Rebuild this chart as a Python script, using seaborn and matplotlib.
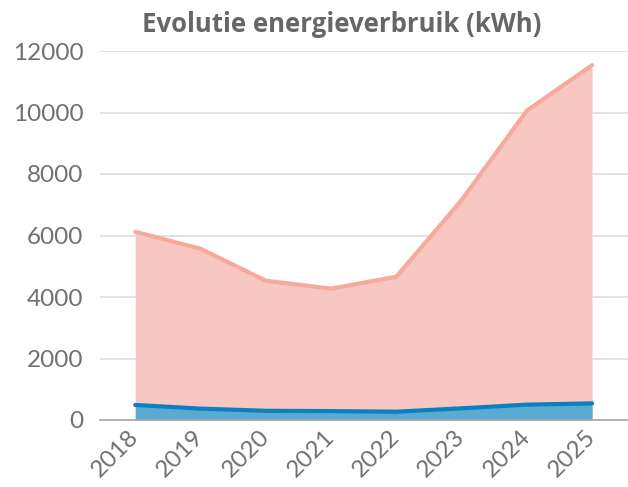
import numpy as np
import pandas as pd
import matplotlib
matplotlib.use("Agg")
import matplotlib.pyplot as plt
import seaborn as sns

years = ["2018", "2019", "2020", "2021", "2022", "2023", "2024", "2025"]
total = [6120, 5570, 4530, 4270, 4660, 7150, 10060, 11540]
small = [490, 370, 300, 290, 270, 380, 500, 540]

sns.set_theme(style="white")
plt.rcParams["font.family"] = ["Lato", "DejaVu Sans"]

df = pd.DataFrame({"year": years, "total": total, "small": small})
df["pos"] = np.arange(len(years))

fig = plt.figure(figsize=(6.28, 4.87), dpi=100)
ax = fig.add_axes([100 / 628, 1 - 420 / 487, 528 / 628, 369 / 487])

ax.fill_between(df["pos"], df["total"], color="#F9C7C1", lw=0, zorder=2)
sns.lineplot(data=df, x="pos", y="total", color="#F7A99D", lw=3, ax=ax, zorder=3)
ax.fill_between(df["pos"], df["small"], color="#5BAAD1", lw=0, zorder=4)
sns.lineplot(data=df, x="pos", y="small", color="#0A80C0", lw=3, ax=ax, zorder=5)

ax.set_xlim(-0.54, 7.55)
ax.set_ylim(0, 12000)
ax.set_yticks(range(0, 12001, 2000))
ax.set_xticks(df["pos"])
ax.set_xticklabels(years, rotation=45, ha="right", va="center",
                   rotation_mode="anchor")
ax.set_xlabel("")
ax.set_ylabel("")
ax.grid(axis="y", color="#DDDDDD", lw=1.2, zorder=0)
ax.set_axisbelow(True)
for s in ["top", "right", "left"]:
    ax.spines[s].set_visible(False)
ax.spines["bottom"].set_color("#A6A6A6")
ax.spines["bottom"].set_linewidth(1.2)
ax.spines["bottom"].set_zorder(6)
ax.tick_params(axis="y", length=0, pad=12, labelsize=17.5, labelcolor="#707070")
ax.tick_params(axis="x", length=0, pad=10, labelsize=17.5, labelcolor="#707070")

fig.text(342 / 628, 1 - 25 / 487, "Evolutie energieverbruik (kWh)",
         ha="center", va="center", fontsize=18.5, fontweight="bold",
         color="#666666", family=["Open Sans", "DejaVu Sans"])

fig.savefig("out.png", dpi=100)
